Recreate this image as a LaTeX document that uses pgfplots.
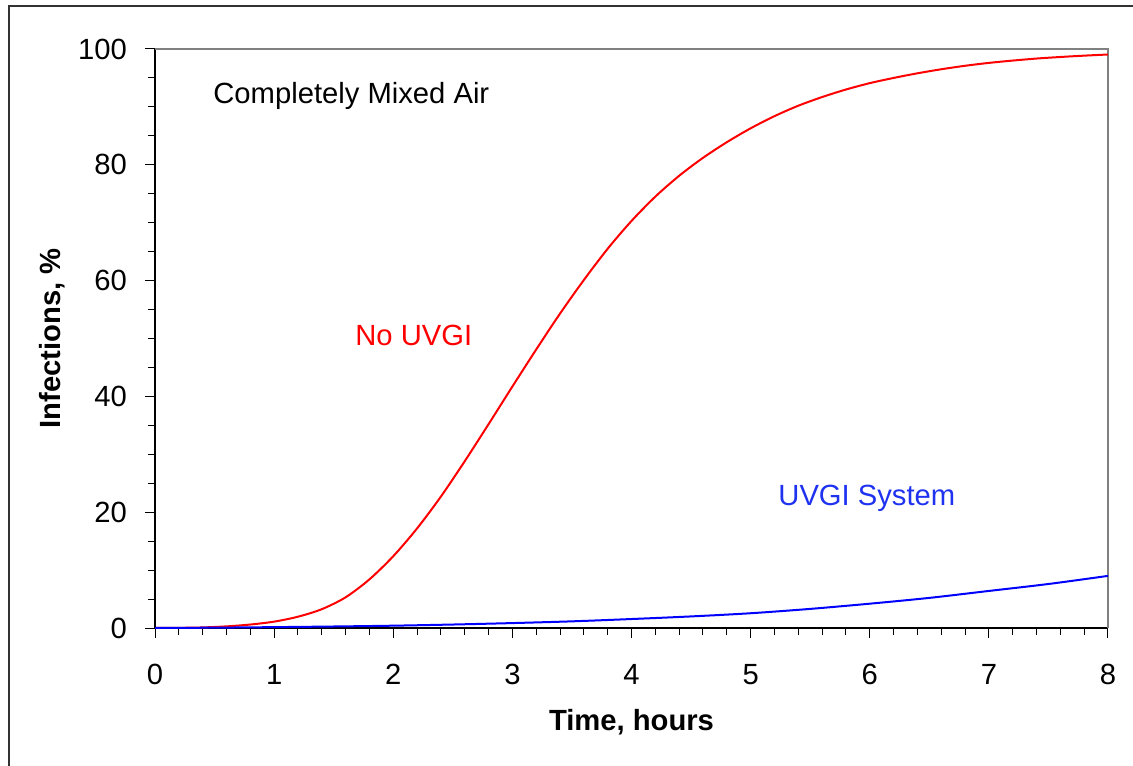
\documentclass[border=0pt]{standalone}
\usepackage{pgfplots}
\pgfplotsset{compat=1.18}
\usepackage{fontspec}
\setmainfont{Liberation Sans}
\definecolor{axgray}{RGB}{128,128,128}
\definecolor{framegray}{RGB}{50,50,50}
\definecolor{lblue}{RGB}{30,50,240}
\begin{document}
\fontsize{14.6pt}{17pt}\selectfont
\begin{tikzpicture}
\useasboundingbox (-77.5pt,-68.5pt) rectangle (489pt,314pt);
\draw[framegray,line width=1pt] (-73pt,-70pt) -- (-73pt,311pt) -- (495pt,311pt);
\begin{axis}[
  at={(0,0)}, anchor=south west,
  scale only axis, width=476.5pt, height=289.5pt,
  xmin=0, xmax=8, ymin=0, ymax=100,
  xtick={0,1,...,8}, ytick={0,20,...,100},
  minor x tick num=4, minor y tick num=3,
  tick align=outside, tick pos=left,
  major tick length=5pt, minor tick length=3.5pt,
  tick style={black, line width=0.5pt},
  axis line style={line width=1pt, black},
  axis x line*=bottom, axis y line*=left,
  ticklabel style={font=\fontsize{14.6pt}{17pt}\selectfont},
  /pgf/number format/assume math mode=true,
  xticklabel style={yshift=-8pt},
  yticklabel style={xshift=-4pt},
  xlabel={\textbf{Time, hours}},
  ylabel={\textbf{Infections, \%}},
  xlabel style={at={(axis description cs:0.5,-0.1624)}, anchor=center, font=\fontsize{14.6pt}{17pt}\selectfont},
  ylabel style={at={(axis description cs:-0.1081,0.5)}, anchor=center, font=\fontsize{14.6pt}{17pt}\selectfont},
  clip=false,
]
\draw[axgray,line width=1pt] (axis cs:0,100) -- (axis cs:8,100) -- (axis cs:8,0);
\addplot[red, line width=1pt, smooth] coordinates {
(0,0) (0.2,0.03) (0.4,0.1) (0.6,0.28) (0.8,0.6) (1.0,1.1) (1.2,1.95) (1.4,3.25) (1.6,5.3) (1.8,8.4) (2.0,12.4) (2.2,17.2) (2.4,22.7) (2.6,28.8) (2.8,35.2) (3.0,41.7) (3.2,48.1) (3.4,54.3) (3.6,60.1) (3.8,65.5) (4.0,70.3) (4.2,74.5) (4.4,78.1) (4.6,81.2) (4.8,83.9) (5.0,86.3) (5.2,88.4) (5.4,90.2) (5.6,91.7) (5.8,93.0) (6.0,94.1) (6.2,95.0) (6.4,95.8) (6.6,96.5) (6.8,97.1) (7.0,97.6) (7.2,98.0) (7.4,98.35) (7.6,98.62) (7.8,98.85) (8.0,99.05)
};
\addplot[blue, line width=1pt, smooth] coordinates {
(0,0) (0.5,0.06) (1,0.15) (1.5,0.26) (2,0.4) (2.5,0.6) (3,0.85) (3.5,1.15) (4,1.55) (4.5,2.0) (5,2.55) (5.5,3.3) (6,4.2) (6.5,5.2) (7,6.4) (7.5,7.6) (8,9.0)
};
\node[anchor=west, font=\fontsize{14.6pt}{17pt}\selectfont, inner sep=0pt] at (axis cs:0.487,91.9) {Completely Mixed Air};
\node[anchor=west, red, font=\fontsize{14.6pt}{17pt}\selectfont, inner sep=0pt] at (axis cs:1.679,50.6) {No UVGI};
\node[anchor=west, lblue, font=\fontsize{14.6pt}{17pt}\selectfont, inner sep=0pt] at (axis cs:5.23,22.45) {UVGI System};
\end{axis}
\end{tikzpicture}
\end{document}
